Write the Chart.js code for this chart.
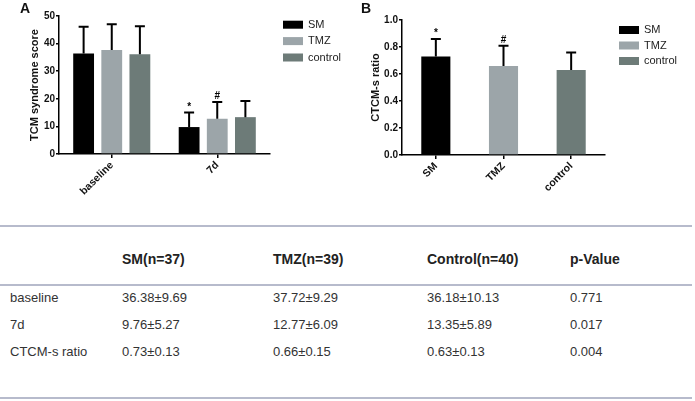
<!DOCTYPE html>
<html>
<head>
<meta charset="utf-8">
<script src="https://cdn.jsdelivr.net/npm/chart.js@4.4.1/dist/chart.umd.min.js"></script>
<style>
    body { margin: 0; background: #fff; font-family: "Liberation Sans", Arial, sans-serif; }
    #page { position: relative; width: 695px; height: 401px; overflow: hidden; }
    .panel { position: absolute; top: 0; }
    .tag { position: absolute; font-weight: bold; font-size: 14px; color: #111; line-height: 16px; }
    .rule { position: absolute; left: 0; width: 692px; height: 2px; background: #b7bbcc; }
    .cell { position: absolute; line-height: 16px; white-space: nowrap; font-size: 13px; color: #333; }
    .head { font-weight: bold; font-size: 14px; color: #222; }
</style>
</head>
<body>
<div id="page">
    <div class="panel" style="left:0;"><canvas id="chartA" width="347" height="210"></canvas></div>
    <div class="panel" style="left:347px;"><canvas id="chartB" width="348" height="210"></canvas></div>
    <div class="tag" style="left:20px; top:0px;">A</div>
    <div class="tag" style="left:361px; top:0px;">B</div>
    <div class="rule" style="top:225px;"></div>
    <div class="rule" style="top:284px;"></div>
    <div class="rule" style="top:397px;"></div>
    <div id="table"></div>
</div>
<script>
// Groups and colours
const groupNames = ['SM', 'TMZ', 'control'];
const groupColors = ['#000000', '#9ca5a9', '#6d7b78'];

// Panel A: TCM syndrome score (mean, SD) per time point
const timePoints = ['baseline', '7d'];
const scoreSM = [36.38, 9.76];
const scoreTMZ = [37.72, 12.77];
const scoreControl = [36.18, 13.35];
const sdSM = [9.69, 5.27];
const sdTMZ = [9.29, 6.09];
const sdControl = [10.13, 5.89];
const marksSM = ['', '*'];
const marksTMZ = ['', '#'];
const marksControl = ['', ''];

// Panel B: CTCM-s ratio
const ratioMean = [0.73, 0.66, 0.63];
const ratioSD = [0.13, 0.15, 0.13];
const ratioMarks = ['*', '#', ''];

// Table
const tableHeaders = ['SM(n=37)', 'TMZ(n=39)', 'Control(n=40)', 'p-Value'];
const rowLabels = ['baseline', '7d', 'CTCM-s ratio'];
const pValues = ['0.771', '0.017', '0.004'];

const FONT = '"Liberation Sans", Arial, sans-serif';

// Error bars (upward only) and significance marks
const errorBarPlugin = {
    id: 'errorBars',
    afterDatasetsDraw(chart) {
        const ctx = chart.ctx;
        const yScale = chart.scales.y;
        chart.data.datasets.forEach((ds, di) => {
            const meta = chart.getDatasetMeta(di);
            meta.data.forEach((bar, i) => {
                const top = yScale.getPixelForValue(ds.data[i] + ds.sd[i]);
                ctx.save();
                ctx.strokeStyle = '#000';
                ctx.lineWidth = 2;
                ctx.beginPath();
                ctx.moveTo(bar.x, bar.y);
                ctx.lineTo(bar.x, top);
                ctx.moveTo(bar.x - 5, top);
                ctx.lineTo(bar.x + 5, top);
                ctx.stroke();
                const mark = ds.marks[i];
                if (mark) {
                    ctx.fillStyle = '#000';
                    ctx.font = 'bold 10px ' + FONT;
                    ctx.textAlign = 'center';
                    ctx.textBaseline = 'alphabetic';
                    ctx.fillText(mark, bar.x, top - 3);
                }
                ctx.restore();
            });
        });
    }
};

// Legend box to the right of each panel
const sideLegendPlugin = {
    id: 'sideLegend',
    afterDraw(chart, args, opts) {
        const ctx = chart.ctx;
        ctx.save();
        ctx.font = '11px ' + FONT;
        ctx.textBaseline = 'middle';
        opts.names.forEach((name, i) => {
            const cy = opts.y + i * opts.step;
            ctx.fillStyle = opts.colors[i];
            ctx.fillRect(opts.x, cy - 4, 20, 8);
            ctx.fillStyle = '#222';
            ctx.fillText(name, opts.x + 25, cy);
        });
        ctx.restore();
    }
};

function axisOptions(yMax, yStep, yTitle, titlePad, yWidth, xHeight, decimals) {
    return {
        x: {
            grid: { display: true, drawOnChartArea: false, offset: false, tickLength: 4, color: '#000', lineWidth: 1.5 },
            border: { display: true, color: '#000', width: 1.5 },
            ticks: {
                autoSkip: false, maxRotation: 45, minRotation: 45, padding: 1, color: '#111',
                font: { family: FONT, size: 10.5, weight: 'bold' }
            },
            afterFit: (scale) => { scale.height = xHeight; }
        },
        y: {
            min: 0,
            max: yMax,
            grid: { display: true, drawOnChartArea: false, tickLength: 3, color: '#000', lineWidth: 1.5 },
            border: { display: true, color: '#000', width: 1.5 },
            ticks: {
                stepSize: yStep, padding: 1, color: '#111',
                font: { family: FONT, size: 10, weight: 'bold' },
                callback: (v) => Number(v).toFixed(decimals)
            },
            title: {
                display: true, text: yTitle, color: '#111',
                padding: { top: titlePad, bottom: 0 },
                font: { family: FONT, size: 11, weight: 'bold' }
            },
            afterFit: (scale) => { scale.width = yWidth; }
        }
    };
}

new Chart(document.getElementById('chartA'), {
    type: 'bar',
    data: {
        labels: timePoints,
        datasets: [
            { label: 'SM', data: scoreSM, sd: sdSM, marks: marksSM, backgroundColor: groupColors[0] },
            { label: 'TMZ', data: scoreTMZ, sd: sdTMZ, marks: marksTMZ, backgroundColor: groupColors[1] },
            { label: 'control', data: scoreControl, sd: sdControl, marks: marksControl, backgroundColor: groupColors[2] }
        ]
    },
    options: {
        responsive: false,
        animation: false,
        categoryPercentage: 0.8,
        barPercentage: 0.74,
        layout: { padding: { left: 0, top: 16, right: 77, bottom: 0 } },
        plugins: {
            legend: { display: false },
            tooltip: { enabled: false },
            sideLegend: { names: groupNames, colors: groupColors, x: 283, y: 24.7, step: 16.4 }
        },
        scales: axisOptions(50, 10, 'TCM syndrome score', 28, 59, 56, 0)
    },
    plugins: [errorBarPlugin, sideLegendPlugin]
});

new Chart(document.getElementById('chartB'), {
    type: 'bar',
    data: {
        labels: groupNames,
        datasets: [
            { label: 'CTCM-s ratio', data: ratioMean, sd: ratioSD, marks: ratioMarks, backgroundColor: groupColors }
        ]
    },
    options: {
        responsive: false,
        animation: false,
        categoryPercentage: 1,
        barPercentage: 0.43,
        layout: { padding: { left: 0, top: 20, right: 90, bottom: 0 } },
        plugins: {
            legend: { display: false },
            tooltip: { enabled: false },
            sideLegend: { names: groupNames, colors: groupColors, x: 272, y: 30, step: 15.5 }
        },
        scales: axisOptions(1, 0.2, 'CTCM-s ratio', 22, 55, 55, 1)
    },
    plugins: [errorBarPlugin, sideLegendPlugin]
});

// Summary table below the charts
const colX = [10, 122, 273, 427, 570];
const rowY = [297.7, 325, 352];
const scoreMeans = [scoreSM, scoreTMZ, scoreControl];
const scoreSDs = [sdSM, sdTMZ, sdControl];
const table = document.getElementById('table');

function addCell(text, x, cy, isHead) {
    const el = document.createElement('div');
    el.className = isHead ? 'cell head' : 'cell';
    el.textContent = text;
    el.style.left = x + 'px';
    el.style.top = (cy - 8) + 'px';
    table.appendChild(el);
}

tableHeaders.forEach((h, c) => addCell(h, colX[c + 1], 259, true));
rowLabels.forEach((label, r) => {
    addCell(label, colX[0], rowY[r], false);
    groupNames.forEach((g, c) => {
        const m = r < 2 ? scoreMeans[c][r] : ratioMean[c];
        const s = r < 2 ? scoreSDs[c][r] : ratioSD[c];
        addCell(m.toFixed(2) + '\u00b1' + s.toFixed(2), colX[c + 1], rowY[r], false);
    });
    addCell(pValues[r], colX[4], rowY[r], false);
});
</script>
</body>
</html>
